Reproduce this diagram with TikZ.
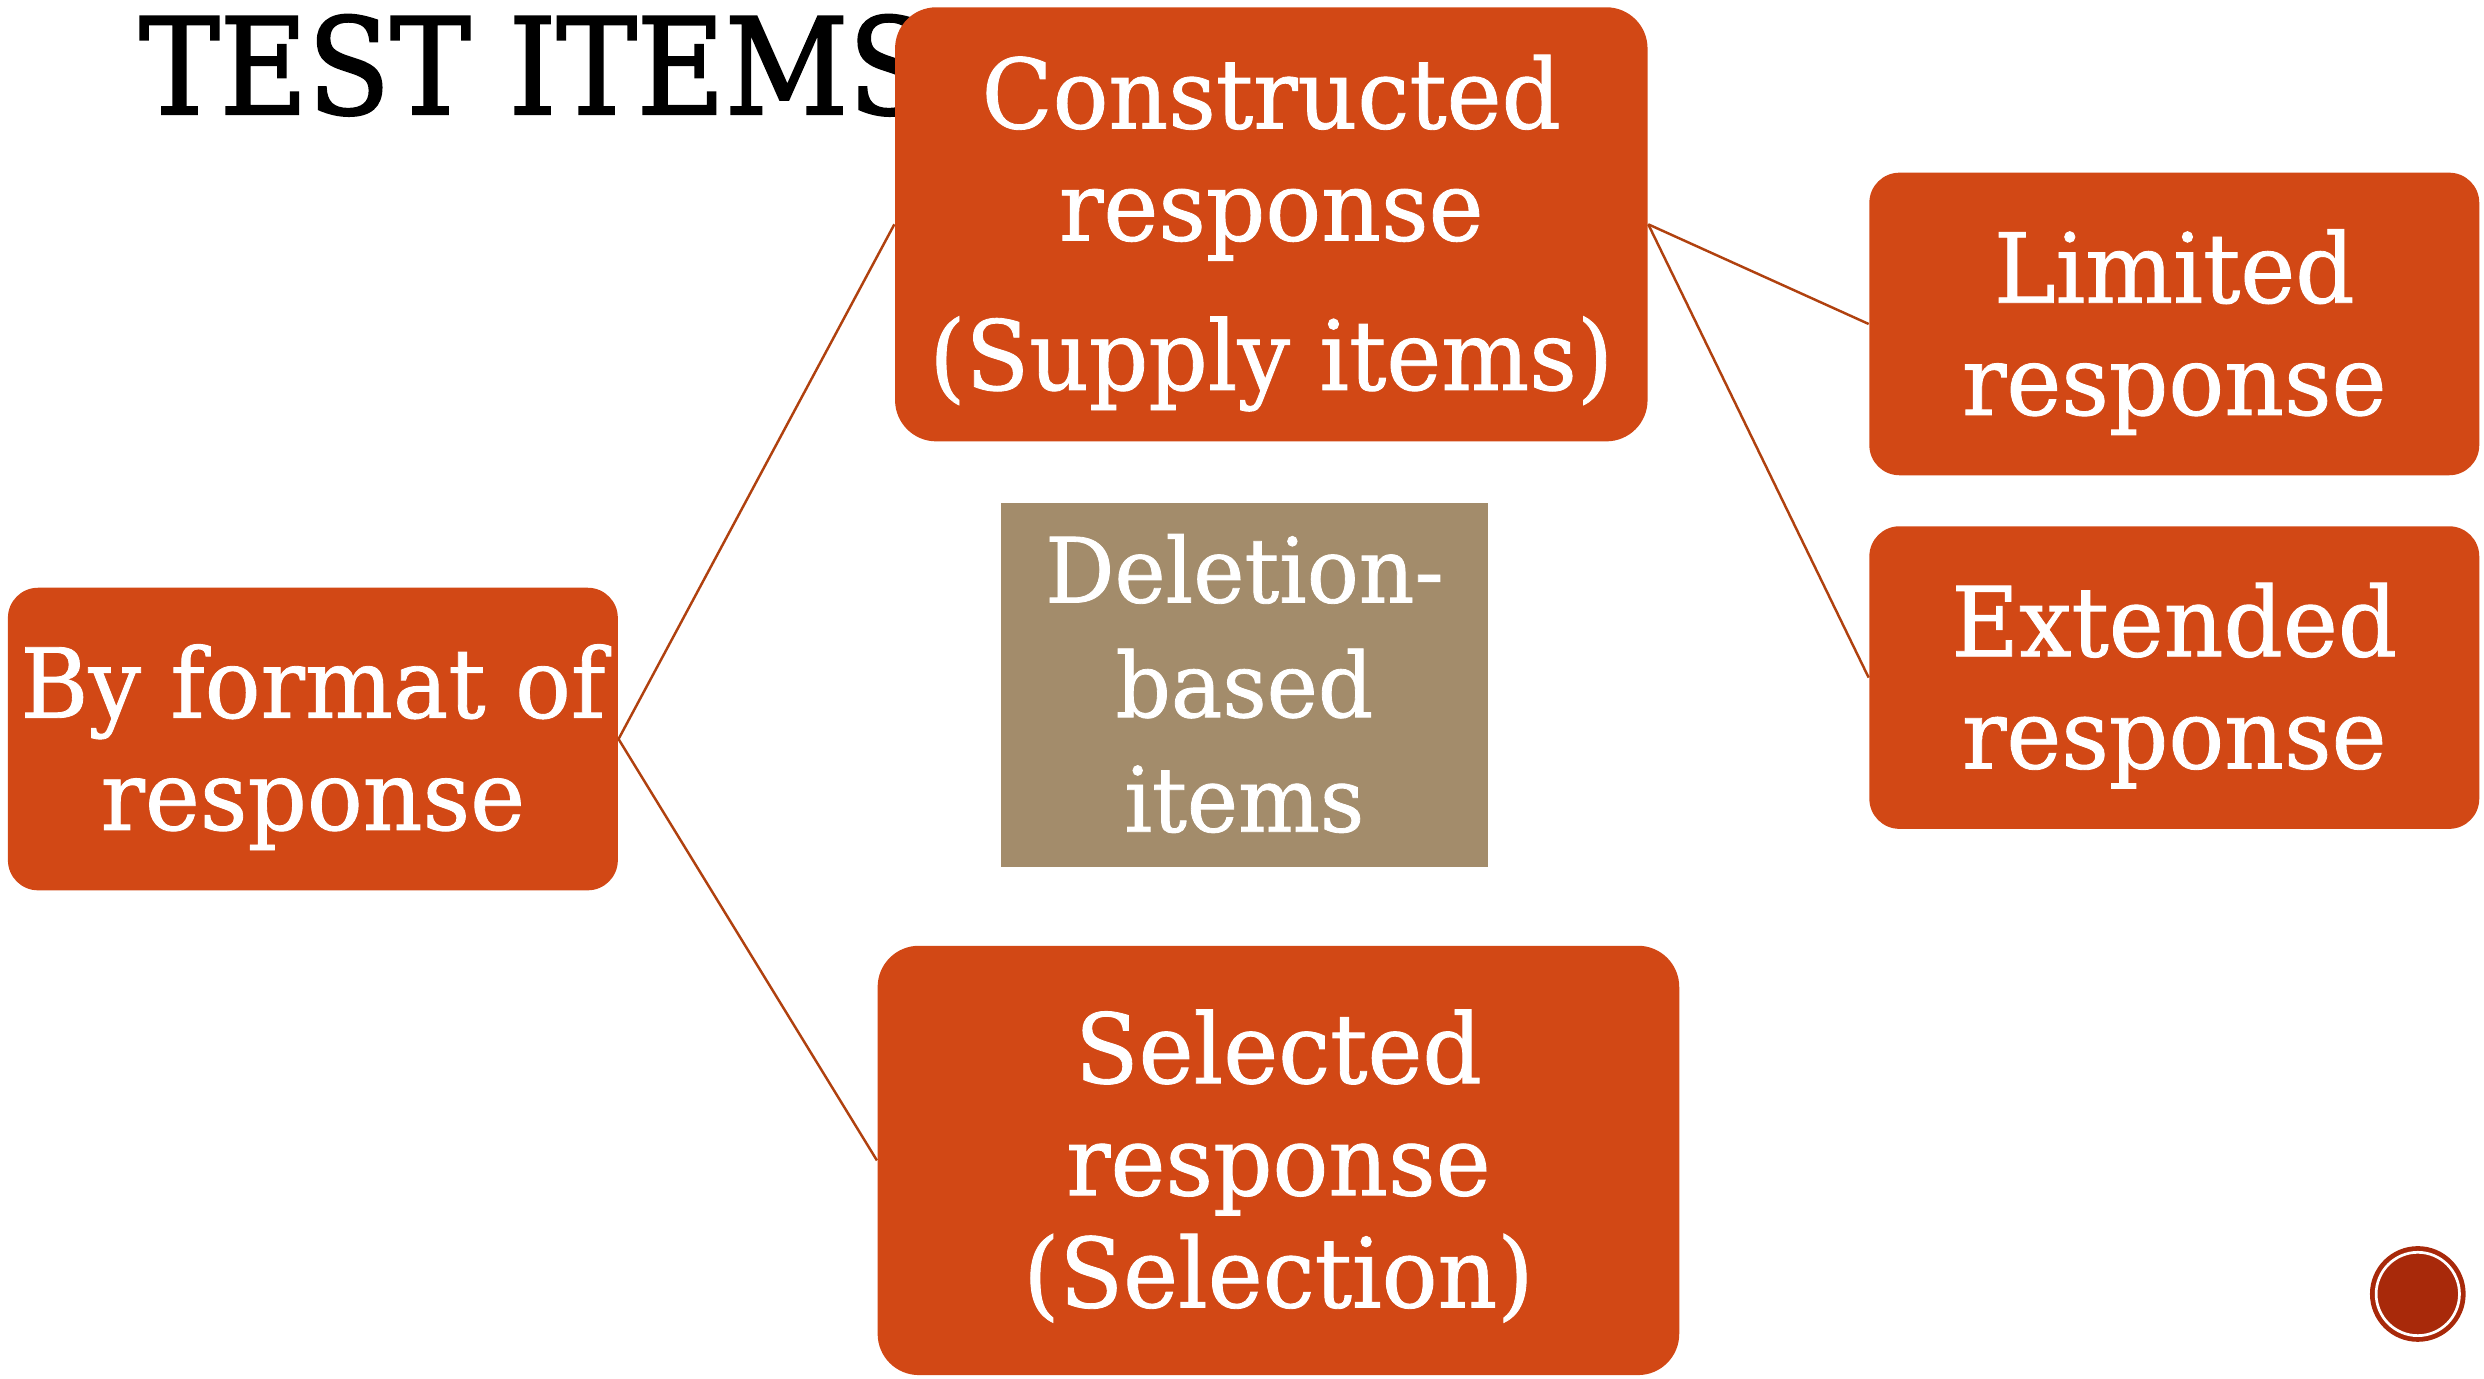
\documentclass[tikz,border=0pt]{standalone}
\usepackage{fontspec}
\setmainfont{DejaVu Serif}
\newfontfamily\titlefont[FakeStretch=0.9, FakeBold=1.6]{DejaVu Serif}
\newfontfamily\boxfont[FakeStretch=0.96, FakeBold=0.9]{DejaVu Serif}
\definecolor{rust}{HTML}{D24815}
\definecolor{khaki}{HTML}{A38C6B}
\definecolor{linkred}{HTML}{B0410F}
\definecolor{seal}{HTML}{A8290A}
\newcommand{\px}{0.01584cm}
\newcommand{\boxlines}[1]{\rule{0pt}{1.02em}#1\rule[-0.3em]{0pt}{0pt}}
\tikzset{
  itembox/.style={fill=rust, text=white, rounded corners=19*\px, align=center, inner sep=0pt,
    minimum width=385*\px, minimum height=191*\px, font=\boxfont\fontsize{27.5}{31.9}\selectfont},
  link/.style={draw=linkred, line width=0.7pt}
}

\begin{document}
\begin{tikzpicture}[x=\px, y=-\px]
  \useasboundingbox (0,0) rectangle (1568,870);
  \node[anchor=base west, inner sep=0pt, font=\titlefont\fontsize{38.1}{40}\selectfont] (title) at (87.5,72) {TEST ITEMS};

  \node[itembox, rounded corners=26*\px, minimum width=475*\px, minimum height=274*\px] (cons) at (802.5,141.6) {\boxlines{Constructed\\response\\[10.6pt](Supply items)}};
  \node[itembox] (lim) at (1372.5,204.5) {\boxlines{Limited\\response}};
  \node[itembox] (ext) at (1372.5,427.7) {\boxlines{Extended\\response}};
  \node[itembox] (fmt) at (197.5,466.5) {\boxlines{By format of\\response}};
  \node[itembox, rounded corners=26*\px, minimum width=506*\px, minimum height=271*\px] (sel) at (807,732.5) {\boxlines{Selected\\response\\(Selection)}};
  \node[itembox, fill=khaki, sharp corners, minimum width=307*\px, minimum height=230*\px,
    font=\boxfont\fontsize{25.6}{32.6}\selectfont] (del) at (785.5,432.2) {\boxlines{Deletion-\\based\\items}};

  \draw[link] (fmt.east) -- (cons.west);
  \draw[link] (fmt.east) -- (sel.west);
  \draw[link] (cons.east) -- (lim.west);
  \draw[link] (cons.east) -- (ext.west);

  \node[circle, fill=seal, minimum size=60.4*\px, inner sep=0pt] (logo) at (1526.2,816.8) {};
  \draw[white, line width=0.77pt] (logo.center) circle[radius=26.3];
\end{tikzpicture}
\end{document}
